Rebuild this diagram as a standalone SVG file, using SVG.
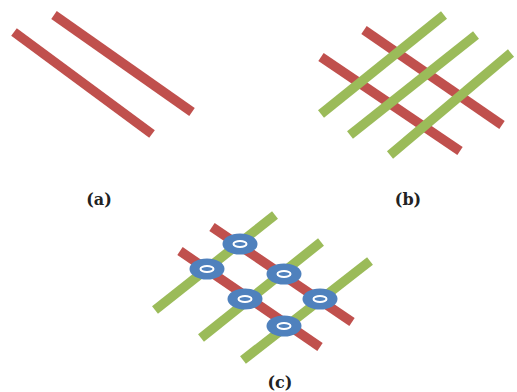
<svg xmlns="http://www.w3.org/2000/svg" width="517" height="392" viewBox="0 0 517 392">
<style>
.r{stroke:#C0504D;stroke-width:9.5;stroke-linecap:butt;fill:none}
.g{stroke:#9BBB59;stroke-width:9.5;stroke-linecap:butt;fill:none}
.n{fill:#4F81BD}
.h{fill:none;stroke:#fff;stroke-width:2}
.lbl{font-family:"DejaVu Serif","Liberation Serif",serif;font-size:16px;font-weight:bold;fill:#222;text-anchor:middle}
</style>
<rect width="517" height="392" fill="#fff"/>
<g id="panel-a">
<line class="r" x1="14" y1="32" x2="152" y2="134"/>
<line class="r" x1="54" y1="15" x2="192" y2="112"/>
<text class="lbl" x="99" y="205">(a)</text>
</g>
<g id="panel-b">
<line class="r" x1="364" y1="30" x2="502" y2="125"/>
<line class="r" x1="321" y1="57" x2="460" y2="151"/>
<line class="g" x1="444" y1="15" x2="321" y2="114"/>
<line class="g" x1="476" y1="35" x2="350" y2="135"/>
<line class="g" x1="511" y1="53" x2="390" y2="155"/>
<text class="lbl" x="408" y="205">(b)</text>
</g>
<g id="panel-c">
<line class="g" x1="275" y1="215" x2="155" y2="310"/>
<line class="g" x1="321" y1="242" x2="201" y2="338"/>
<line class="g" x1="370" y1="261" x2="243" y2="360"/>
<line class="r" x1="212" y1="227" x2="352" y2="322"/>
<line class="r" x1="180" y1="251" x2="320" y2="347"/>
<g id="node1"><ellipse class="n" cx="240" cy="244" rx="17.5" ry="10.5"/><ellipse class="h" cx="240" cy="244" rx="6.5" ry="3"/></g>
<g id="node2"><ellipse class="n" cx="207" cy="269" rx="17.5" ry="10.5"/><ellipse class="h" cx="207" cy="269" rx="6.5" ry="3"/></g>
<g id="node3"><ellipse class="n" cx="284" cy="274" rx="17.5" ry="10.5"/><ellipse class="h" cx="284" cy="274" rx="6.5" ry="3"/></g>
<g id="node4"><ellipse class="n" cx="245" cy="299" rx="17.5" ry="10.5"/><ellipse class="h" cx="245" cy="299" rx="6.5" ry="3"/></g>
<g id="node5"><ellipse class="n" cx="320" cy="299" rx="17.5" ry="10.5"/><ellipse class="h" cx="320" cy="299" rx="6.5" ry="3"/></g>
<g id="node6"><ellipse class="n" cx="284" cy="326" rx="17.5" ry="10.5"/><ellipse class="h" cx="284" cy="326" rx="6.5" ry="3"/></g>
<text class="lbl" x="280" y="388">(c)</text>
</g>
</svg>
